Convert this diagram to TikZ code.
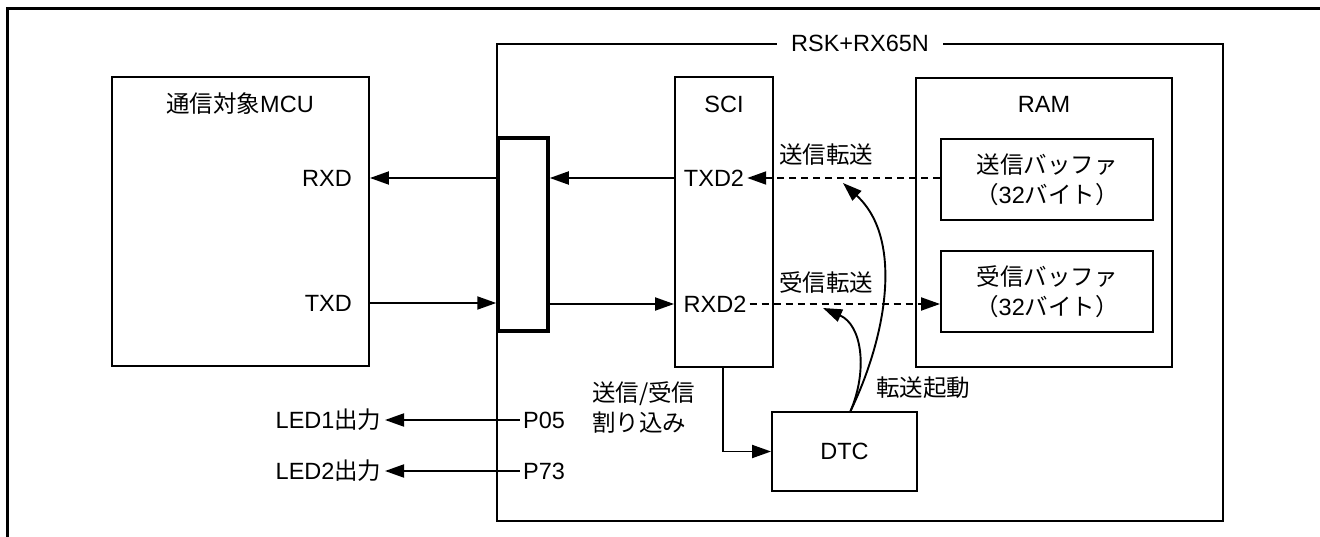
\documentclass[tikz,border=0pt]{standalone}
\usepackage{fontspec}
\setmainfont{Liberation Sans}
\newfontfamily\jp{Noto Sans CJK JP}
\usetikzlibrary{arrows.meta}
\begin{document}
\begin{tikzpicture}[x=1pt,y=-1pt,
  every node/.style={font=\fontsize{23.5}{30}\selectfont},
  box/.style={draw, line width=1.9pt, minimum width=#1},
  lbl/.style={inner sep=3pt},
  arr/.style={line width=1.9pt, -{Triangle[length=19pt,width=13pt]}},
  dsh/.style={dash pattern=on 7pt off 5pt}]
\useasboundingbox (0,0) rectangle (1320,537);
% outer frame
\draw[line width=3pt] (7.5,537) -- (7.5,8.5) -- (1320,8.5);
% boxes
\node[box=726pt, minimum height=477pt] (rsk) at (860,282.5) {};
\node[fill=white, inner xsep=14pt, inner ysep=2pt] (rsklbl) at (rsk.north) {RSK+RX65N};
\node[box=257pt, minimum height=289pt] (mcu) at (240.5,221.5) {};
\node (mcut) at (240,104) {{\jp 通信対象}MCU};
\node[box=98pt, minimum height=290pt] (sci) at (724,222) {};
\node (scit) at (724,104) {SCI};
\node[box=256pt, minimum height=289pt] (ram) at (1044,222.5) {};
\node (ramt) at (1044,104) {RAM};
\node[box=212pt, minimum height=81pt, align=center] (sbuf) at (1047,179.5) {{\jp 送信バッファ}\\{\jp （}32{\jp バイト）}};
\node[box=212pt, minimum height=81pt, align=center] (rbuf) at (1047,291.5) {{\jp 受信バッファ}\\{\jp （}32{\jp バイト）}};
\node[draw, line width=3.5pt, minimum width=50pt, minimum height=193pt] (conn) at (523,234.5) {};
\node[box=145pt, minimum height=79pt] (dtc) at (844.5,451.5) {DTC};
% signal labels
\node[anchor=east, lbl] (rxd) at (355,178) {RXD};
\node[anchor=east, lbl] (txd) at (355,303) {TXD};
\node[lbl] (txd2) at (714,178) {TXD2};
\node[lbl] (rxd2) at (715,304) {RXD2};
\node (sendlbl) at (826,155) {\jp 送信転送};
\node (recvlbl) at (826,283) {\jp 受信転送};
\node (startlbl) at (923,388) {\jp 転送起動};
\node[anchor=west, align=left, inner sep=0pt] (intlbl) at (592,407) {{\jp 送信/受信}\\{\jp 割り込み}};
\node (p05) at (544,420) {P05};
\node (p73) at (544,471) {P73};
\node[anchor=east] (led1) at (385,420) {LED1{\jp 出力}};
\node[anchor=east] (led2) at (385,471) {LED2{\jp 出力}};
% connectors
\draw[arr] (sci.west |- txd2) -- (conn.east |- txd2);
\draw[arr] (conn.west |- rxd) -- (mcu.east |- rxd);
\draw[arr] (mcu.east |- txd) -- (conn.west |- txd);
\draw[arr] (conn.east |- rxd2) -- (sci.west |- rxd2);
\draw[arr, dsh] (sbuf.west |- txd2) -- (txd2.east);
\draw[arr, dsh] (rxd2.east) -- (rbuf.west |- rxd2);
\draw[arr] ([xshift=-1pt]sci.south) |- (dtc.west);
\draw[arr] ([xshift=6pt]dtc.north) .. controls (885,340) and (905,240) .. (843,183);
\draw[arr] ([xshift=6pt]dtc.north) .. controls (868,370) and (862,325) .. (823,308);
\draw[arr] (p05.west) -- (led1.east);
\draw[arr] (p73.west) -- (led2.east);
\end{tikzpicture}
\end{document}
